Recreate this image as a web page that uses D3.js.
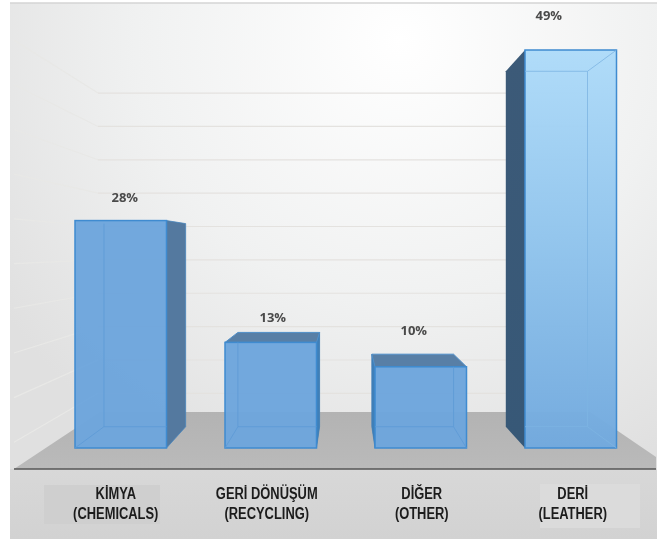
<!DOCTYPE html>
<html lang="tr">
<head>
<meta charset="utf-8">
<title>Chart</title>
<script src="https://cdn.jsdelivr.net/npm/d3@7"></script>
<style>
html, body { margin: 0; padding: 0; background: #fff; }
svg { display: block; filter: blur(0.35px); }
.pct { font-family: "Open Sans", sans-serif; font-weight: 700; font-size: 13px; fill: #4a4a4a; text-anchor: middle; }
.cat { font-family: "Liberation Sans", sans-serif; font-weight: 700; font-size: 17px; fill: #1c1c1c; text-anchor: middle; }
</style>
</head>
<body>
<svg id="chart" width="661" height="542"></svg>
<script>
// valores
const categories = ['KİMYA', 'GERİ DÖNÜŞÜM', 'DİĞER', 'DERİ'];
const categoriesEn = ['(CHEMICALS)', '(RECYCLING)', '(OTHER)', '(LEATHER)'];
const shares = [28, 13, 10, 49];
const gridLevels = [4.6, 9.2, 13.8, 18.4, 23, 27.6, 32.2, 36.8, 41.4, 46];

const W = 661, H = 542;
const svg = d3.select('#chart');
const defs = svg.append('defs');

const x = d3.scaleBand().domain(categories).range([45.75, 645.75]).paddingInner(0.39).paddingOuter(0.195);
const y = d3.scaleLinear().domain([0, 49]).range([448, 50]);

// punto de fuga de la perspectiva
const VP = [345.5, 249], K = 0.107;
const toBack = (px, py, k = K) => [px + (VP[0] - px) * k, py + (VP[1] - py) * k];
const pts = a => a.map(p => p.join(',')).join(' ');

function gradient(id, attrs, stops) {
    const g = defs.append(attrs.r ? 'radialGradient' : 'linearGradient').attr('id', id);
    Object.entries(attrs).forEach(([k, v]) => g.attr(k, v));
    stops.forEach(s => g.append('stop').attr('offset', s[0]).attr('stop-color', s[1]));
}
gradient('wall', { gradientUnits: 'userSpaceOnUse', cx: 400, cy: 40, r: 480 }, [[0, '#ffffff'], [0.55, '#f0f1f1'], [1, '#e0e0e0']]);
gradient('floor', { x1: 0, y1: 0, x2: 0, y2: 1 }, [[0, '#b3b3b3'], [1, '#bababa']]);
gradient('band', { x1: 0, y1: 0, x2: 0, y2: 1 }, [[0, '#d8d8d8'], [1, '#d2d2d2']]);
gradient('tall', { x1: 0, y1: 0, x2: 0, y2: 1 }, [[0, '#aedbf9'], [0.5, '#8fc3ec'], [1, '#71a9de']]);
gradient('tallSide', { x1: 0, y1: 0, x2: 0, y2: 1 }, [[0, '#3c5a78'], [1, '#375877']]);

// paredes y suelo
svg.append('rect').attr('x', 10).attr('y', 3).attr('width', 647).attr('height', 536).attr('fill', 'url(#wall)');
svg.append('line').attr('x1', 10).attr('x2', 657).attr('y1', 3).attr('y2', 3).attr('stroke', '#d4d4d4').attr('stroke-width', 1.5);

// lineas de rejilla en la pared del fondo y la izquierda
const backRight = 590, backLeft = 98;
gridLevels.forEach(v => {
    const by = toBack(0, y(v))[1];
    const s = (backLeft - 14) / (VP[0] - backLeft);
    const edge = [14, by + (by - VP[1]) * s];
    svg.append('line')
        .attr('x1', edge[0]).attr('y1', edge[1]).attr('x2', backLeft).attr('y2', by)
        .attr('stroke', '#e8e8e6').attr('stroke-width', 1.2);
    svg.append('line')
        .attr('x1', backLeft).attr('y1', by).attr('x2', backRight).attr('y2', by)
        .attr('stroke', '#e4e2df').attr('stroke-width', 1.2);
});

svg.append('polygon')
    .attr('points', pts([[14, 469], [100, 412], [590, 412], [656, 457], [656, 469]]))
    .attr('fill', 'url(#floor)');
svg.append('rect').attr('x', 10).attr('y', 469).attr('width', 647).attr('height', 70).attr('fill', 'url(#band)');
svg.append('rect').attr('x', 44).attr('y', 485).attr('width', 116).attr('height', 39).attr('fill', '#cfcfcf');
svg.append('rect').attr('x', 540).attr('y', 484).attr('width', 100).attr('height', 44).attr('fill', '#dbdbdb');
svg.append('line').attr('x1', 14).attr('x2', 656).attr('y1', 469).attr('y2', 469).attr('stroke', '#565656').attr('stroke-width', 1.6);

// barras 3D
const bars = svg.selectAll('.bar').data(categories).enter().append('g').attr('class', 'bar');
bars.each(function (c, i) {
    const g = d3.select(this);
    const l = x(c), r = l + x.bandwidth(), t = y(shares[i]), b = y(0);
    const fTL = [l, t], fTR = [r, t], fBL = [l, b], fBR = [r, b];
    const bTL = toBack(l, t), bTR = toBack(r, t), bBL = toBack(l, b), bBR = toBack(r, b);
    const tall = shares[i] === d3.max(shares);

    // cara lateral: la que queda del lado del punto de fuga
    const side = l > VP[0] ? [fTL, bTL, bBL, fBL] : [fTR, bTR, bBR, fBR];
    g.append('polygon').attr('points', pts(side))
        .attr('fill', tall ? 'url(#tallSide)' : '#54799f')
        .attr('stroke', tall ? 'none' : '#4a86bd').attr('stroke-width', 0.8);
    if (i === 1 || i === 2) {
        const other = i === 1 ? [fTR, bTR, bBR, fBR] : [fTL, bTL, bBL, fBL];
        g.append('polygon').attr('points', pts(other)).attr('fill', '#3f7fb8');
    }

    // cara superior, solo se ve por debajo del horizonte
    if (t > VP[1]) {
        g.append('polygon').attr('points', pts([fTL, fTR, bTR, bTL]))
            .attr('fill', '#587fa6').attr('stroke', '#4f8fc9').attr('stroke-width', 1);
    }

    g.append('rect').attr('x', l).attr('y', t).attr('width', r - l).attr('height', b - t)
        .attr('fill', tall ? 'url(#tall)' : '#6da5dc').attr('fill-opacity', 0.97)
        .attr('stroke', '#3f8bd0').attr('stroke-width', 1.5);

    // aristas interiores vistas a traves de la cara frontal
    const inner = g.append('g').attr('fill', 'none').attr('stroke', tall ? '#7db4e2' : '#5c9ad6').attr('stroke-width', 1).attr('stroke-opacity', 0.8);
    const ib = [Math.max(l, bBL[0]), Math.min(r, bBR[0])];
    inner.append('line').attr('x1', ib[0]).attr('x2', ib[1]).attr('y1', bBL[1]).attr('y2', bBL[1]);
    if (l < VP[0] && bBL[0] > l) inner.append('line').attr('x1', bBL[0]).attr('x2', bBL[0]).attr('y1', Math.max(t, bTL[1])).attr('y2', bBL[1]);
    if (r > VP[0] && bBR[0] < r) inner.append('line').attr('x1', bBR[0]).attr('x2', bBR[0]).attr('y1', Math.max(t, bTR[1])).attr('y2', bBR[1]);
    if (bBL[0] > l) inner.append('line').attr('x1', l).attr('y1', b).attr('x2', bBL[0]).attr('y2', bBL[1]);
    if (bBR[0] < r) inner.append('line').attr('x1', r).attr('y1', b).attr('x2', bBR[0]).attr('y2', bBR[1]);
    if (tall) {
        inner.append('line').attr('x1', l).attr('x2', bTR[0]).attr('y1', bTR[1]).attr('y2', bTR[1]);
        inner.append('line').attr('x1', r).attr('y1', t).attr('x2', bTR[0]).attr('y2', bTR[1]);
    }
});

// ajuste fino de las etiquetas, no caen centradas en el original
const pctDx = [4, 2, -7, -22], pctDy = [-19, -20, -32, -30];
const catDx = [-5, -4, 1, 2];
const catSquash = 0.76;

categories.forEach((c, i) => {
    const cx = x(c) + x.bandwidth() / 2;
    svg.append('text').attr('class', 'pct')
        .attr('x', cx + pctDx[i]).attr('y', y(shares[i]) + pctDy[i])
        .text(shares[i] + '%');
    // no hay fuente condensada instalada, se estrecha a mano
    const row = svg.append('g').attr('transform', `translate(${cx + catDx[i]},0) scale(${catSquash},1)`);
    row.append('text').attr('class', 'cat').attr('x', 0).attr('y', 499).text(c);
    row.append('text').attr('class', 'cat').attr('x', 0).attr('y', 519).text(categoriesEn[i]);
});
</script>
</body>
</html>
